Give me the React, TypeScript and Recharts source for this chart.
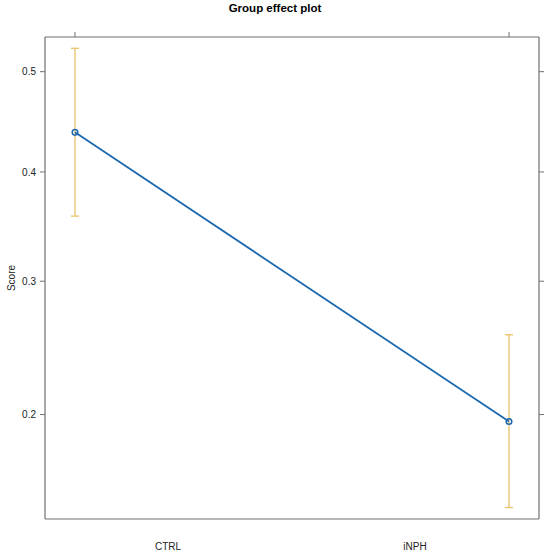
import React from 'react';
import { LineChart, Line, XAxis, YAxis, ErrorBar } from 'recharts';

const categories = ['CTRL', 'iNPH'];
const fitValues = [0.439, 0.1955];
const lowerValues = [0.358, 0.1465];
const upperValues = [0.5236, 0.2566];
const yTickValues = [0.2, 0.3, 0.4, 0.5];
const yDomainProb = [0.1408, 0.535];

const logit = (p: number) => Math.log(p / (1 - p));
const invLogit = (x: number) => 1 / (1 + Math.exp(-x));

const data = categories.map((c, i) => {
  const y = logit(fitValues[i]);
  return {
    group: c,
    score: y,
    err: [y - logit(lowerValues[i]), logit(upperValues[i]) - y],
  };
});

const yTicks = yTickValues.map(logit);
const yDomain = yDomainProb.map(logit);
const fmt = (v: number) => {
  const p = invLogit(v);
  return (Math.round(p * 10) / 10).toString();
};

const FONT = '"Liberation Sans", Arial, Helvetica, sans-serif';
const AXIS = '#707070';
const BLUE = '#1d69b0';
const ORANGE = '#EDC672';

export default function App() {
  return (
    <div style={{ position: 'absolute', left: 0, top: 0, width: 550, height: 558, background: '#fff', fontFamily: FONT }}>
      <div
        style={{
          position: 'absolute',
          left: 0,
          top: 2,
          width: 550,
          textAlign: 'center',
          fontSize: 11.5,
          fontWeight: 'bold',
          color: '#000',
          fontFamily: FONT,
        }}
      >
        Group effect plot
      </div>
      <LineChart width={550} height={558} data={data} margin={{ top: 0, right: 0, bottom: 0, left: 0 }}>
        <XAxis
          xAxisId="pts"
          dataKey="group"
          orientation="top"
          height={37}
          padding={{ left: 30, right: 30 }}
          axisLine={{ stroke: AXIS, strokeWidth: 1.2 }}
          tickLine={{ stroke: AXIS }}
          tickSize={5}
          tickFormatter={() => ''}
        />
        <XAxis
          xAxisId="lab"
          dataKey="group"
          orientation="bottom"
          height={39}
          padding={{ left: 123, right: 124 }}
          axisLine={{ stroke: AXIS, strokeWidth: 1.2 }}
          tickLine={false}
          tickSize={0}
          tickMargin={24}
          tick={{ fill: '#222', fontSize: 10, fontFamily: FONT }}
        />
        <YAxis
          yAxisId="left"
          type="number"
          domain={yDomain}
          ticks={yTicks}
          allowDataOverflow
          width={45}
          axisLine={{ stroke: AXIS, strokeWidth: 1.2 }}
          tickLine={{ stroke: AXIS }}
          tickSize={5}
          tickMargin={4}
          tickFormatter={fmt}
          tick={{ fill: '#222', fontSize: 10, fontFamily: FONT }}
          label={{
            value: 'Score',
            angle: -90,
            position: 'center',
            dx: -11,
            style: { fill: '#222', fontSize: 10, fontFamily: FONT },
          }}
        />
        <YAxis
          yAxisId="right"
          orientation="right"
          type="number"
          domain={yDomain}
          ticks={yTicks}
          allowDataOverflow
          width={11}
          axisLine={{ stroke: AXIS, strokeWidth: 1.2 }}
          tickLine={{ stroke: AXIS }}
          tickSize={5}
          tickFormatter={() => ''}
        />
        <Line
          xAxisId="pts"
          yAxisId="left"
          dataKey="score"
          type="linear"
          stroke={BLUE}
          strokeWidth={1.8}
          dot={{ r: 2.8, stroke: BLUE, strokeWidth: 1.5, fill: 'none' }}
          activeDot={false}
          isAnimationActive={false}
        >
          <ErrorBar dataKey="err" width={4} stroke={ORANGE} strokeWidth={1.4} direction="y" />
        </Line>
      </LineChart>
    </div>
  );
}
